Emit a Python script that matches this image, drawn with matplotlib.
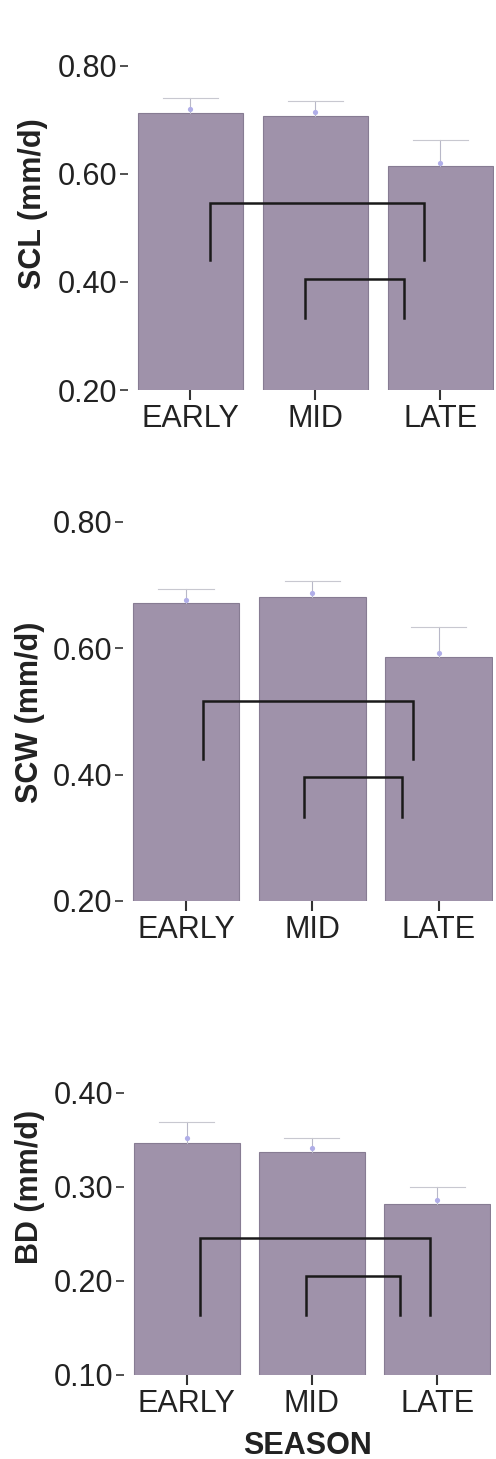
import numpy as np
import matplotlib.pyplot as plt

plt.rcParams['font.family'] = ['Liberation Sans', 'DejaVu Sans']

seasons = ["EARLY", "MID", "LATE"]

scl_bar = [0.713, 0.708, 0.614]
scl_err = [0.740, 0.735, 0.663]
scl_pt = [0.720, 0.715, 0.620]

scw_bar = [0.672, 0.681, 0.586]
scw_err = [0.694, 0.706, 0.633]
scw_pt = [0.676, 0.687, 0.593]

bd_bar = [0.347, 0.3375, 0.282]
bd_err = [0.369, 0.352, 0.300]
bd_pt = [0.352, 0.341, 0.286]

# brackets: (x_left, x_right, y_top, y_bottom)
scl_brackets = [(0.16, 1.87, 0.547, 0.441), (0.92, 1.71, 0.406, 0.334)]
scw_brackets = [(0.13, 1.80, 0.516, 0.424), (0.93, 1.71, 0.396, 0.333)]
bd_brackets = [(0.11, 1.94, 0.246, 0.164), (0.95, 1.70, 0.205, 0.164)]

W, H = 496, 1459
fig = plt.figure(figsize=(W / 100, H / 100), dpi=100)

bar_col = "#9f92aa"
edge_col = "#877c93"


def panel(rect_px, bars, errs, pts, brackets, ylim, yticks, ylabel, lab_px):
    l, r, b, t = rect_px
    ax = fig.add_axes([l / W, 1 - b / H, (r - l) / W, (b - t) / H])
    x = np.arange(len(seasons))
    ax.bar(x, bars, width=0.845, color=bar_col, edgecolor=edge_col, linewidth=0.8, zorder=1)
    for xi, top, bt in zip(x, errs, bars):
        ax.plot([xi, xi], [bt, top], color="#b8b8c8", lw=0.8, zorder=2)
        ax.plot([xi - 0.22, xi + 0.22], [top, top], color="#c8c8d0", lw=0.8, zorder=2)
    ax.scatter(x, pts, s=14, color="#b0aee8", zorder=3, linewidths=0)
    for xl, xr, yt, yb in brackets:
        ax.plot([xl, xl, xr, xr], [yb, yt, yt, yb], color="#1a1a1a", lw=1.8,
                solid_joinstyle="miter", zorder=4)
    ax.set_xlim(-0.5, 2.43)
    ax.set_ylim(*ylim)
    ax.set_yticks(yticks)
    ax.set_yticklabels(["%.2f" % v for v in yticks])
    ax.set_xticks(x)
    ax.set_xticklabels(seasons)
    for s in ax.spines.values():
        s.set_visible(False)
    ax.tick_params(axis="y", length=6, width=1.2, color="#333333", labelsize=22,
                   labelcolor="#222222", pad=2)
    ax.tick_params(axis="x", length=7, width=1.5, color="#333333", labelsize=22,
                   labelcolor="#222222", pad=3)
    ax.set_ylabel(ylabel, fontsize=22, fontweight="bold", color="#222222")
    lx, ly = lab_px
    ax.yaxis.set_label_coords((lx - l) / (r - l), (b - ly) / (b - t))
    return ax


panel((128, 494, 390, 55), scl_bar, scl_err, scl_pt, scl_brackets,
      (0.2, 0.82), [0.2, 0.4, 0.6, 0.8], "SCL (mm/d)", (48, 204))
panel((123, 493, 901, 509), scw_bar, scw_err, scw_pt, scw_brackets,
      (0.2, 0.82), [0.2, 0.4, 0.6, 0.8], "SCW (mm/d)", (45, 712))
ax3 = panel((124, 491, 1375, 1046), bd_bar, bd_err, bd_pt, bd_brackets,
            (0.1, 0.45), [0.1, 0.2, 0.3, 0.4], "BD (mm/d)", (45, 1187))
ax3.set_xlabel("SEASON", fontsize=22, fontweight="bold", color="#222222", labelpad=9)

fig.savefig("out.png", dpi=100)
